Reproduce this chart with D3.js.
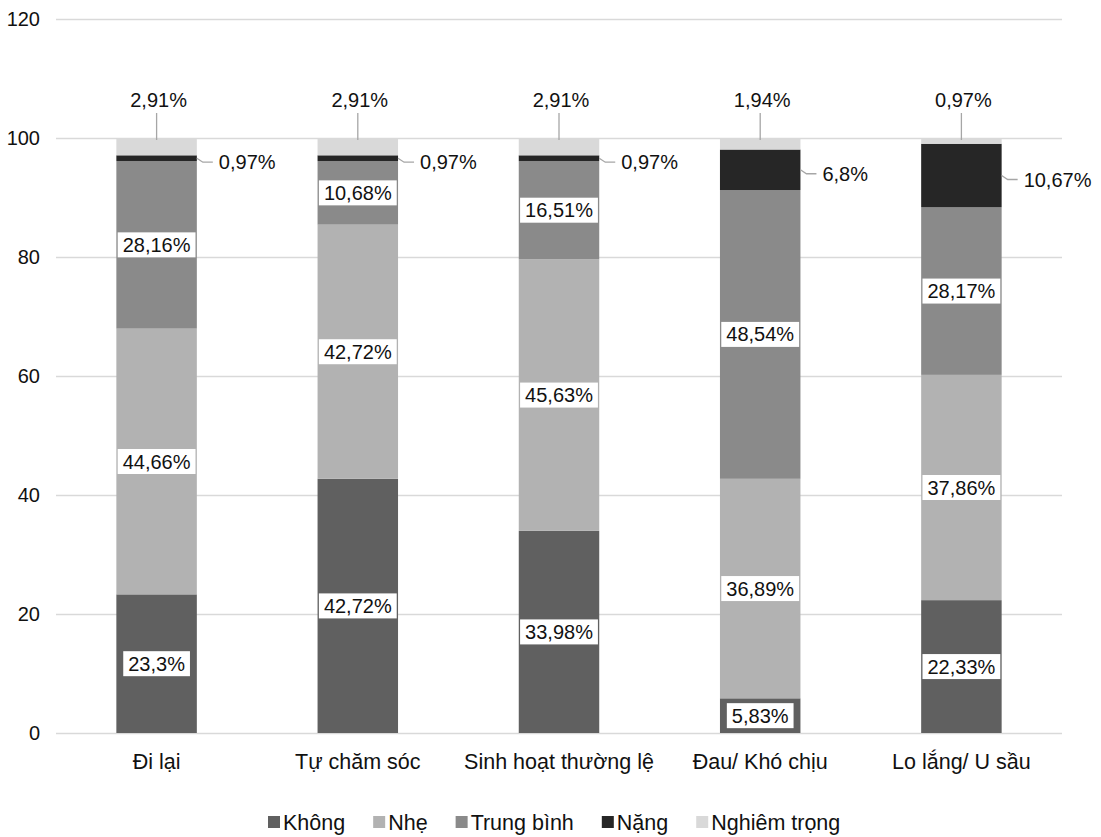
<!DOCTYPE html>
<html>
<head>
<meta charset="utf-8">
<script src="https://cdn.jsdelivr.net/npm/d3@7"></script>
<style>
    body { margin: 0; background: #fff; }
    text { font-family: "Liberation Sans", Arial, sans-serif; }
</style>
</head>
<body>
<div id="chart"></div>
<script>
// categories and series
let categories = ["Đi lại", "Tự chăm sóc", "Sinh hoạt thường lệ", "Đau/ Khó chịu", "Lo lắng/ U sầu"];
let seriesNames = ["Không", "Nhẹ", "Trung bình", "Nặng", "Nghiêm trọng"];
let khong = [23.3, 42.72, 33.98, 5.83, 22.33];
let nhe = [44.66, 42.72, 45.63, 36.89, 37.86];
let trungBinh = [28.16, 10.68, 16.51, 48.54, 28.17];
let nang = [0.97, 0.97, 0.97, 6.8, 10.67];
let nghiemTrong = [2.91, 2.91, 2.91, 1.94, 0.97];
let yTicks = [0, 20, 40, 60, 80, 100, 120];

let colors = ["#606060", "#b2b2b2", "#8a8a8a", "#262626", "#d9d9d9"];
// value -> "23,3%"
let fmt = v => String(+v.toFixed(2)).replace(".", ",") + "%";

let width = 1101, height = 837;
let fontSize = 20;

let svg = d3.select("#chart").append("svg")
    .attr("width", width)
    .attr("height", height);

// scales
let x = d3.scaleBand().domain(categories).range([56, 1062]).paddingInner(0.6).paddingOuter(0.3);
let y = d3.scaleLinear().domain([0, 120]).range([733, 19]);

// gridlines
svg.append("g").selectAll("line")
    .data(yTicks)
    .enter().append("line")
    .attr("x1", 56).attr("x2", 1062)
    .attr("y1", d => Math.round(y(d)) + 0.5)
    .attr("y2", d => Math.round(y(d)) + 0.5)
    .attr("stroke", "#d9d9d9")
    .attr("stroke-width", 1.5);

// y labels
svg.append("g").selectAll("text")
    .data(yTicks)
    .enter().append("text")
    .attr("x", 40)
    .attr("y", d => y(d))
    .attr("dy", "0.35em")
    .attr("text-anchor", "end")
    .attr("font-size", fontSize)
    .attr("fill", "#111")
    .text(d => d);

// x labels
svg.append("g").selectAll("text")
    .data(categories)
    .enter().append("text")
    .attr("x", d => x(d) + x.bandwidth() / 2)
    .attr("y", 761)
    .attr("dy", "0.35em")
    .attr("text-anchor", "middle")
    .attr("font-size", 21.5)
    .attr("fill", "#111")
    .text(d => d);

// stack data
let table = categories.map((c, i) => ({
    cat: c,
    "Không": khong[i],
    "Nhẹ": nhe[i],
    "Trung bình": trungBinh[i],
    "Nặng": nang[i],
    "Nghiêm trọng": nghiemTrong[i]
}));
let stacked = d3.stack().keys(seriesNames)(table);

let barGroup = svg.append("g");
stacked.forEach((layer, k) => {
    barGroup.append("g")
        .attr("fill", colors[k])
        .selectAll("rect")
        .data(layer)
        .enter().append("rect")
        .attr("x", d => x(d.data.cat))
        .attr("width", x.bandwidth())
        .attr("y", d => y(d[1]))
        .attr("height", d => y(d[0]) - y(d[1]));
});

let labelGroup = svg.append("g");

// inside labels for first three series, white boxes
stacked.slice(0, 3).forEach(layer => {
    layer.forEach(d => {
        let cx = x(d.data.cat) + x.bandwidth() / 2;
        let cy = y((d[0] + d[1]) / 2);
        let g = labelGroup.append("g");
        let t = g.append("text")
            .attr("x", cx)
            .attr("y", cy)
            .attr("dy", "0.35em")
            .attr("text-anchor", "middle")
            .attr("font-size", fontSize)
            .attr("fill", "#111")
            .text(fmt(d[1] - d[0]));
        let w = t.node().getComputedTextLength() + 10;
        g.insert("rect", "text")
            .attr("x", cx - w / 2)
            .attr("y", cy - 12.5)
            .attr("width", w)
            .attr("height", 25)
            .attr("fill", "#fff");
    });
});

// callouts for Nặng (right side)
stacked[3].forEach(d => {
    let right = x(d.data.cat) + x.bandwidth();
    let cy = y((d[0] + d[1]) / 2);
    let ly = cy + 4;
    labelGroup.append("polyline")
        .attr("points", [[right, cy], [right + 6, ly], [right + 16, ly]].map(p => p.join(",")).join(" "))
        .attr("fill", "none")
        .attr("stroke", "#a6a6a6")
        .attr("stroke-width", 1.3);
    labelGroup.append("text")
        .attr("x", right + 22)
        .attr("y", ly)
        .attr("dy", "0.35em")
        .attr("font-size", fontSize)
        .attr("fill", "#111")
        .text(fmt(d[1] - d[0]));
});

// callouts for Nghiêm trọng (above)
stacked[4].forEach(d => {
    let cx = x(d.data.cat) + x.bandwidth() / 2;
    let top = y(d[1]);
    labelGroup.append("line")
        .attr("x1", cx).attr("x2", cx)
        .attr("y1", top + 2).attr("y2", top - 25)
        .attr("stroke", "#a6a6a6")
        .attr("stroke-width", 1.3);
    labelGroup.append("text")
        .attr("x", cx + 2)
        .attr("y", top - 38)
        .attr("dy", "0.35em")
        .attr("text-anchor", "middle")
        .attr("font-size", fontSize)
        .attr("fill", "#111")
        .text(fmt(d[1] - d[0]));
});

// legend
let legend = svg.append("g");
let lx = 268;
seriesNames.forEach((name, k) => {
    legend.append("rect")
        .attr("x", lx)
        .attr("y", 816)
        .attr("width", 12)
        .attr("height", 12)
        .attr("fill", colors[k]);
    let t = legend.append("text")
        .attr("x", lx + 15)
        .attr("y", 822)
        .attr("dy", "0.35em")
        .attr("font-size", 21.5)
        .attr("fill", "#111")
        .text(name);
    lx += 15 + t.node().getComputedTextLength() + 28;
});
</script>
</body>
</html>
